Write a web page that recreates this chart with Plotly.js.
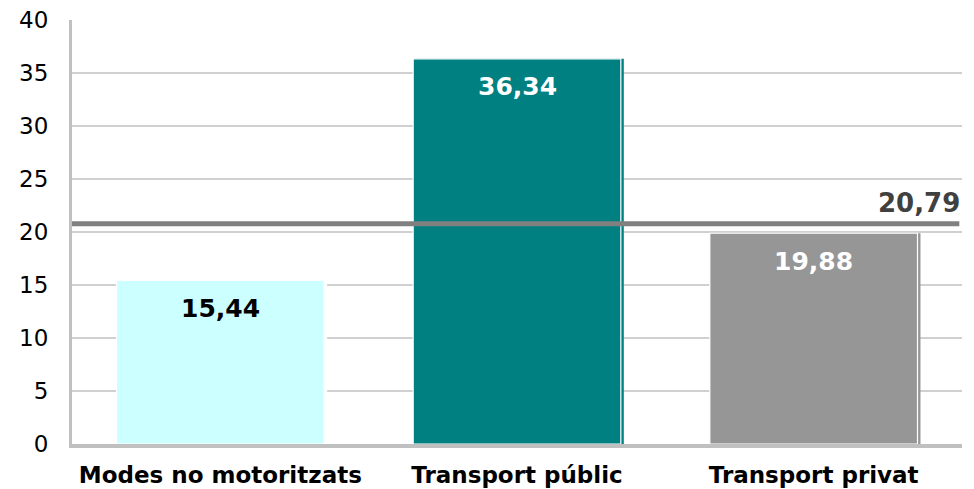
<!DOCTYPE html>
<html>
<head>
<meta charset="utf-8">
<script src="https://cdn.plot.ly/plotly-3.0.1.min.js"></script>
<style>html,body{margin:0;padding:0;background:#fff;}#chart{width:974px;height:489px;}</style>
</head>
<body>
<div id="chart"></div>
<script>
const categories = ["Modes no motoritzats", "Transport públic", "Transport privat"];
const values = [15.44, 36.34, 19.88];
const valueLabels = ["15,44", "36,34", "19,88"];
const average = 20.79;
const averageLabel = "20,79";
const yTicks = [0, 5, 10, 15, 20, 25, 30, 35, 40];

const barColors = ["#CCFFFF", "#008080", "#969696"];
const shadowColors = ["#ffffff", "#008080", "#969696"];
const labelColors = ["#000000", "#ffffff", "#ffffff"];
const FONT = "DejaVu Sans, Verdana, sans-serif";

const shadow = {
  type: "bar", x: categories, y: values,
  width: 0.7, offset: -0.34,
  marker: {color: shadowColors, line: {width: 0}},
  hoverinfo: "skip", showlegend: false
};
const bars = {
  type: "bar", x: categories, y: values,
  width: 0.7, offset: -0.35,
  marker: {color: barColors, line: {color: "#ffffff", width: 1.2}},
  showlegend: false
};
const avgLine = {
  type: "scatter", mode: "lines",
  x: [0, 0.997], y: [average, average],
  xaxis: "x2", yaxis: "y",
  line: {color: "#808080", width: 5},
  hoverinfo: "skip", showlegend: false
};

const annotations = categories.map((c, i) => ({
  x: c, y: values[i], xref: "x", yref: "y",
  text: "<b>" + valueLabels[i] + "</b>",
  showarrow: false, yanchor: "middle", yshift: -28,
  font: {family: FONT, size: 25, color: labelColors[i]}
}));
annotations.push({
  x: 1, y: average, xref: "x2", yref: "y",
  text: "<b>" + averageLabel + "</b>",
  showarrow: false, xanchor: "right", yanchor: "bottom", yshift: 4, xshift: 0,
  font: {family: FONT, size: 26, color: "#404040"}
});

const layout = {
  width: 974, height: 489,
  margin: {l: 72, r: 12, t: 20, b: 45},
  paper_bgcolor: "#ffffff", plot_bgcolor: "#ffffff",
  barmode: "overlay",
  font: {family: FONT, color: "#000000"},
  xaxis: {
    type: "category", showgrid: false,
    showline: true, linecolor: "#c0c0c0", linewidth: 4,
    tickfont: {family: FONT, size: 23, color: "#000000", weight: "bold"},
    ticks: "", ticklabelstandoff: 7, fixedrange: true
  },
  xaxis2: {
    overlaying: "x", range: [0, 1], visible: false, fixedrange: true
  },
  yaxis: {
    range: [0, 40], tickvals: yTicks, ticktext: yTicks.map(String),
    showgrid: true, gridcolor: "#d0d0d0", gridwidth: 1.5,
    showline: true, linecolor: "#c0c0c0", linewidth: 3,
    zeroline: false, ticks: "", ticklabelstandoff: 16,
    tickfont: {family: FONT, size: 23, color: "#000000"}, fixedrange: true
  },
  annotations: annotations
};

Plotly.newPlot("chart", [shadow, bars, avgLine], layout, {displayModeBar: false, staticPlot: true});
</script>
</body>
</html>
